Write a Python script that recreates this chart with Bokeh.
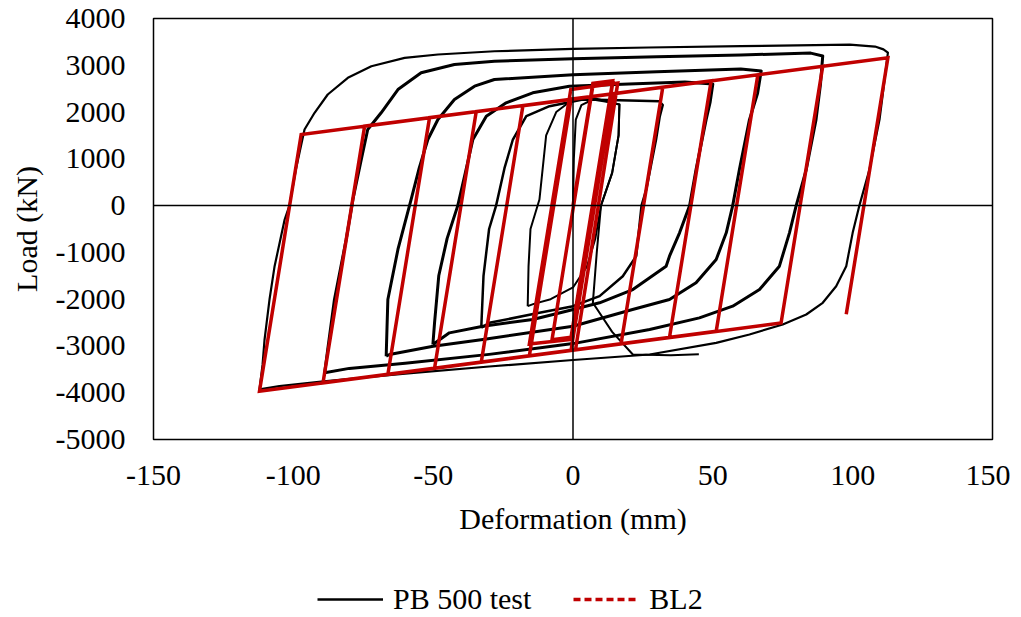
from bokeh.plotting import figure
from bokeh.models import Span, Legend, LegendItem, FixedTicker, Range1d
from bokeh.layouts import column
from bokeh.embed import file_html
from bokeh.resources import INLINE

# ---------------- data ----------------
x_ticks = [-150, -100, -50, 0, 50, 100, 150]
y_ticks = [-5000, -4000, -3000, -2000, -1000, 0, 1000, 2000, 3000, 4000]

# PB 500 test - hysteresis cycles
cycA_x = [-112.1, -111.0, -110.3, -108.5, -106.7, -103.1, -101.4, -99.0, -96.0, -92.4, -87.7, -80.5, -72.1, -60.2,
          -48.3, -28.1, 0.0, 27.0, 60.0, 99.0, 108.0, 111.0, 112.6, 110.8, 109.6, 106.0, 102.4, 100.0, 97.7, 94.1,
          89.3, 83.4, 75.0, 63.1, 51.2, 27.4, 0.0, -30.0, -60.0, -90.0, -105.0, -112.1]
cycA_y = [-3930, -3400, -2868, -2000, -1295, -297, 0, 800, 1627, 1984, 2375, 2732, 2980, 3159,
          3230, 3300, 3350, 3380, 3410, 3440, 3400, 3340, 3270, 2400, 1838, 771, 0, -582, -1295, -1723,
          -2078, -2328, -2541, -2755, -2933, -3183, -3300, -3440, -3590, -3760, -3860, -3930]

cycB_x = [-88.8, -87.7, -85.3, -81.1, -78.7, -76.0, -73.4, -68.6, -62.6, -54.3, -42.4, -28.1, 0.0, 30.0, 60.0,
          85.0, 89.3, 88.5, 86.9, 83.4, 79.8, 77.4, 73.8, 66.7, 57.1, 45.2, 27.4, 0.0, -30.0, -60.0, -80.0, -88.8]
cycB_y = [-3575, -3076, -2008, -725, 130, 900, 1627, 1984, 2482, 2839, 3016, 3087, 3140, 3180, 3220,
          3260, 3200, 2600, 1838, 771, 0, -582, -1295, -1794, -2150, -2400, -2648, -2950, -3180, -3370, -3480, -3575]

cycC_x = [-66.8, -66.5, -66.2, -62.6, -57.9, -55.0, -51.9, -48.3, -42.4, -35.2, -28.1, 0.0, 30.0, 60.0, 67.3,
          66.0, 63.1, 59.5, 57.1, 54.8, 51.2, 44.0, 34.5, 21.3, 0.0, -32.2, -50.0, -65.6, -66.8]
cycC_y = [-3219, -2600, -2008, -938, 130, 800, 1413, 1841, 2268, 2553, 2696, 2800, 2860, 2920, 2880,
          2400, 1838, 771, 0, -582, -1152, -1650, -2008, -2220, -2578, -2862, -3006, -3183, -3219]

cycD_x = [-50.1, -49.5, -48.0, -45.0, -41.2, -38.5, -35.8, -31.0, -23.9, -14.4, -1.3, 20.0, 40.0, 50.0,
          49.0, 47.6, 44.0, 41.7, 38.1, 34.5, 33.3, 21.4, 9.5, -2.4, -14.4, -32.2, -44.2, -50.1]
cycD_y = [-2969, -2500, -1500, -700, 0, 700, 1413, 1911, 2197, 2411, 2553, 2600, 2640, 2600,
          2200, 1838, 771, 0, -582, -1081, -1295, -1794, -2078, -2257, -2435, -2578, -2720, -2969]

cycE_x = [-32.8, -32.0, -30.0, -27.5, -24.5, -21.5, -16.7, -8.4, 3.5, 16.6, 30.9, 32.1, 31.0, 29.7, 26.2,
          24.5, 22.6, 17.8, 9.5, 0.0, -12.0, -29.9, -32.8]
cycE_y = [-2612, -1500, -500, 0, 800, 1413, 1911, 2125, 2268, 2250, 2232, 2150, 1900, 1413, 344,
          0, -1081, -1509, -1936, -2150, -2292, -2506, -2612]

cycF_x = [0.0, 0.3, 1.0, 3.0, 7.1, 12.0, 16.6, 16.3, 14.0, 10.0, 8.5, 7.1, 14.0, 21.4, 35.0, 45.0]
cycF_y = [0, 1000, 1840, 2150, 2268, 2220, 2160, 1500, 700, 0, -1000, -2078, -2700, -3183, -3200, -3180]

cycG_x = [-16.2, -15.9, -15.2, -12.0, -9.6, -6.0, -0.1, 8.3, 16.6, 16.3, 14.0, 10.0, 8.0, 5.0, 0.0, -8.0,
          -14.0, -16.2]
cycG_y = [-2150, -1300, -500, 130, 1500, 2000, 2268, 2283, 2160, 1500, 700, 0, -700, -1300, -1750, -2000,
          -2100, -2150]

# BL2 - bilinear model
bl2_x = [0.0, 7.1, 14.2, -0.7, -7.5, 7.1, 14.2, -0.7, -15.6, -0.8, 16.0, 0.9, -15.6, -0.7, 14.2, -0.7,
         -32.8, -17.9, 32.1, 17.2, -49.5, -34.6, 49.4, 34.5, -66.2, -51.3, 66.1, 51.2, -89.4, -74.5, 89.3,
         74.4, -112.1, -97.2, 112.6, 97.7]
bl2_y = [0, 2613, 2670, -2813, -2866, 2560, 2620, -2860, -2960, 2480, 2620, -3082, -3211, 2276, 2392, -3091,
         -3346, 2137, 2532, -2951, -3477, 2010, 2668, -2819, -3608, 1880, 2798, -2688, -3789, 1698, 2980,
         -2508, -3967, 1520, 3162, -2324]

# ---------------- figure ----------------
FONT = "Liberation Serif"
FS = "30px"
RED = "#C00000"

p = figure(width=1010, height=572, output_backend="svg", toolbar_location=None,
           x_range=Range1d(-150, 150), y_range=Range1d(-5000, 4000),
           min_border_left=153, min_border_right=18, min_border_top=18, min_border_bottom=133)
p.background_fill_color = "white"
p.border_fill_color = "white"
p.outline_line_color = "black"
p.outline_line_width = 1.5
p.xgrid.visible = False
p.ygrid.visible = False

for ax, ticks in ((p.xaxis[0], x_ticks), (p.yaxis[0], y_ticks)):
    ax.ticker = FixedTicker(ticks=ticks)
    ax.major_label_overrides = {t: str(t) for t in ticks}
    ax.axis_line_color = None
    ax.major_tick_line_color = None
    ax.minor_tick_line_color = None
    ax.major_tick_out = 0
    ax.major_tick_in = 0
    ax.major_label_text_font = FONT
    ax.major_label_text_font_size = FS
    ax.major_label_text_color = "black"
    ax.axis_label_text_font = FONT
    ax.axis_label_text_font_size = FS
    ax.axis_label_text_font_style = "normal"
    ax.axis_label_text_color = "black"

p.xaxis.axis_label = "Deformation (mm)"
p.yaxis.axis_label = "Load (kN)"
p.xaxis.major_label_standoff = 26
p.yaxis.major_label_standoff = 28
p.xaxis.axis_label_standoff = 14
p.yaxis.axis_label_standoff = 10

p.add_layout(Span(location=0, dimension="width", line_color="black", line_width=1.5))
p.add_layout(Span(location=0, dimension="height", line_color="black", line_width=1.5))

for xs, ys, lw in ((cycF_x, cycF_y, 2), (cycG_x, cycG_y, 2), (cycE_x, cycE_y, 2.5), (cycD_x, cycD_y, 3),
                   (cycC_x, cycC_y, 3), (cycB_x, cycB_y, 3), (cycA_x, cycA_y, 2.2)):
    p.line(xs, ys, line_color="black", line_width=lw, line_join="round")

p.line(bl2_x, bl2_y, line_color=RED, line_width=3.5, line_join="miter")

# legend strip below the chart (its frame is aligned with the chart frame by the column)
lg = figure(width=1010, height=44, output_backend="svg", toolbar_location=None,
            x_range=Range1d(0, 1), y_range=Range1d(0, 1), min_border=0)
lg.axis.visible = False
lg.xgrid.visible = False
lg.ygrid.visible = False
lg.outline_line_color = None
lg.background_fill_color = "white"
lg.border_fill_color = "white"
nan = float("nan")
r_test = lg.line([nan], [nan], line_color="black", line_width=2.5)
r_bl2 = lg.line([nan], [nan], line_color=RED, line_width=3.5, line_dash="7 4")
legend = Legend(items=[LegendItem(label="PB 500 test", renderers=[r_test]),
                       LegendItem(label="BL2", renderers=[r_bl2])],
                orientation="horizontal", location=(164, 0),
                label_text_font=FONT, label_text_font_size=FS, label_text_color="black",
                glyph_width=66, glyph_height=20, label_standoff=10, spacing=42,
                border_line_color=None, background_fill_alpha=0, padding=0, margin=0)
lg.add_layout(legend)

open("out.html", "w").write(file_html(column(p, lg, spacing=0), INLINE))
